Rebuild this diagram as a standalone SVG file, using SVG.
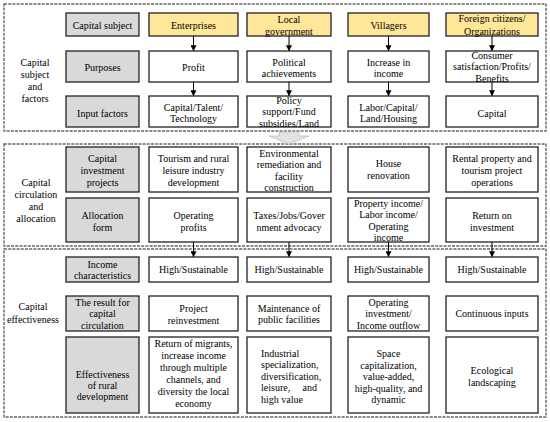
<svg xmlns="http://www.w3.org/2000/svg" width="550" height="422" viewBox="0 0 550 422" font-family="'Liberation Serif','DejaVu Serif','Times New Roman',serif" font-size="10">
<style>
text{font-family:'Liberation Serif','DejaVu Serif','Times New Roman',serif;font-size:10px;fill:#000;text-anchor:middle}
.l{text-anchor:start}
.e{text-anchor:end}
.sec{fill:none;stroke:#666;stroke-width:1.4;stroke-dasharray:3 1.2}
.g{fill:#d9d9d9;stroke:#222;stroke-width:1.3}
.y{fill:#ffe699;stroke:#222;stroke-width:1.3}
.w{fill:#fff;stroke:#222;stroke-width:1.3}
.c line{stroke:#000;stroke-width:1}
</style>
<defs>
<marker id="ah" viewBox="0 0 8 8" refX="7" refY="4" markerWidth="6" markerHeight="6" orient="auto" markerUnits="userSpaceOnUse">
<path d="M0,0 L8,4 L0,8 z" fill="#000"/>
</marker>
</defs>
<rect width="550" height="422" fill="#fff"/>

<!-- sections -->
<g id="sec1"><rect class="sec" x="4" y="4" width="542" height="127"/>
<text x="35" y="65.5">Capital</text><text x="35" y="77.5">subject</text><text x="35" y="89.5">and</text><text x="35" y="101.5">factors</text></g>
<g id="sec2"><rect class="sec" x="4" y="144" width="542" height="102"/>
<text x="36" y="185.5">Capital</text><text x="36" y="197.5">circulation</text><text x="36" y="209.5">and</text><text x="36" y="221.5">allocation</text></g>
<g id="sec3"><rect class="sec" x="4" y="249" width="542" height="168"/>
<text x="33" y="309.5">Capital</text><text x="33" y="322.5">effectiveness</text></g>

<g id="bigarrow"><polygon points="279,132 299,132 299,136 309,136 289,144 269,136 279,136" fill="#e3e3e3" stroke="#bdbdbd" stroke-width="0.8"/></g>

<!-- row 1 -->
<g id="n_capital_subject"><rect class="g" x="66" y="13" width="73" height="23"/><text x="102.5" y="28.5">Capital subject</text></g>
<g id="n_enterprises"><rect class="y" x="149" y="13" width="89" height="23"/><text x="193.5" y="28.5">Enterprises</text></g>
<g id="n_local_gov"><rect class="y" x="247" y="13" width="84" height="23"/><text x="289" y="22.5">Local</text><text x="289" y="34.5">government</text></g>
<g id="n_villagers"><rect class="y" x="348" y="13" width="81" height="23"/><text x="388.5" y="28.5">Villagers</text></g>
<g id="n_foreign"><rect class="y" x="446" y="13" width="92" height="23"/><text x="492" y="22">Foreign citizens/</text><text x="492" y="34.5">Organizations</text></g>

<!-- row 2 -->
<g id="n_purposes"><rect class="g" x="66" y="51" width="73" height="31"/><text x="102.5" y="70.5">Purposes</text></g>
<g id="n_profit"><rect class="w" x="149" y="51" width="89" height="31"/><text x="193.5" y="70.5">Profit</text></g>
<g id="n_political"><rect class="w" x="247" y="51" width="84" height="31"/><text x="289" y="65.5">Political</text><text x="289" y="76.5">achievements</text></g>
<g id="n_increase"><rect class="w" x="348" y="51" width="81" height="31"/><text x="388.5" y="65.5">Increase in</text><text x="388.5" y="76.5">income</text></g>
<g id="n_consumer"><rect class="w" x="446" y="51" width="92" height="31"/><text x="492" y="58.5">Consumer</text><text x="492" y="69.5">satisfaction/Profits/</text><text x="492" y="81.5">Benefits</text></g>

<!-- row 3 -->
<g id="n_input"><rect class="g" x="66" y="96" width="73" height="31"/><text x="102.5" y="116.5">Input factors</text></g>
<g id="n_cap_talent"><rect class="w" x="149" y="96" width="89" height="31"/><text x="193.5" y="110.5">Capital/Talent/</text><text x="193.5" y="121.5">Technology</text></g>
<g id="n_policy"><rect class="w" x="247" y="96" width="84" height="31"/><text x="289" y="103.5">Policy</text><text x="289" y="115">support/Fund</text><text x="289" y="127">subsidies/Land</text></g>
<g id="n_labor"><rect class="w" x="348" y="96" width="81" height="31"/><text x="388.5" y="110.5">Labor/Capital/</text><text x="388.5" y="121.5">Land/Housing</text></g>
<g id="n_capital"><rect class="w" x="446" y="96" width="92" height="31"/><text x="492" y="116.5">Capital</text></g>

<!-- row 4 -->
<g id="n_cap_inv"><rect class="g" x="66" y="147" width="73" height="45"/><text x="102.5" y="161.5">Capital</text><text x="102.5" y="173.5">investment</text><text x="102.5" y="185.5">projects</text></g>
<g id="n_tourism"><rect class="w" x="149" y="147" width="89" height="45"/><text x="193.5" y="161.5">Tourism and rural</text><text x="193.5" y="173.5">leisure industry</text><text x="193.5" y="185.5">development</text></g>
<g id="n_env"><rect class="w" x="247" y="147" width="84" height="45"/><text x="289" y="156.5">Environmental</text><text x="289" y="167.5">remediation and</text><text x="289" y="179.5">facility</text><text x="289" y="190.5">construction</text></g>
<g id="n_house"><rect class="w" x="348" y="147" width="81" height="45"/><text x="388.5" y="166.5">House</text><text x="388.5" y="178.5">renovation</text></g>
<g id="n_rental"><rect class="w" x="446" y="147" width="92" height="45"/><text x="492" y="161.5">Rental property and</text><text x="492" y="173.5">tourism project</text><text x="492" y="185.5">operations</text></g>

<!-- row 5 -->
<g id="n_alloc"><rect class="g" x="66" y="198" width="73" height="44"/><text x="102.5" y="218.5">Allocation</text><text x="102.5" y="230.5">form</text></g>
<g id="n_oper_profits"><rect class="w" x="149" y="198" width="89" height="44"/><text x="193.5" y="218.5">Operating</text><text x="193.5" y="230.5">profits</text></g>
<g id="n_taxes"><rect class="w" x="247" y="198" width="84" height="44"/><text x="289" y="218.5">Taxes/Jobs/Gover</text><text x="289" y="230.5">nment advocacy</text></g>
<g id="n_property"><rect class="w" x="348" y="198" width="81" height="44"/><text x="388.5" y="206.5">Property income/</text><text x="388.5" y="218">Labor income/</text><text x="388.5" y="229.5">Operating</text><text x="388.5" y="241">income</text></g>
<g id="n_return"><rect class="w" x="446" y="198" width="92" height="44"/><text x="492" y="218.5">Return on</text><text x="492" y="230.5">investment</text></g>

<!-- row 6 -->
<g id="n_income_char"><rect class="g" x="66" y="257" width="73" height="25"/><text x="102.5" y="267.5">Income</text><text x="102.5" y="278.5">characteristics</text></g>
<g id="n_hs1"><rect class="w" x="149" y="257" width="89" height="25"/><text x="193.5" y="272.5">High/Sustainable</text></g>
<g id="n_hs2"><rect class="w" x="247" y="257" width="84" height="25"/><text x="289" y="272.5">High/Sustainable</text></g>
<g id="n_hs3"><rect class="w" x="348" y="257" width="81" height="25"/><text x="388.5" y="272.5">High/Sustainable</text></g>
<g id="n_hs4"><rect class="w" x="446" y="257" width="92" height="25"/><text x="492" y="272.5">High/Sustainable</text></g>

<!-- row 7 -->
<g id="n_result"><rect class="g" x="66" y="296" width="73" height="35"/><text x="102.5" y="305.5">The result for</text><text x="102.5" y="316.5">capital</text><text x="102.5" y="328.5">circulation</text></g>
<g id="n_reinvest"><rect class="w" x="149" y="296" width="89" height="35"/><text x="193.5" y="311.5">Project</text><text x="193.5" y="323.5">reinvestment</text></g>
<g id="n_maint"><rect class="w" x="247" y="296" width="84" height="35"/><text x="289" y="311.5">Maintenance of</text><text x="289" y="322.5">public facilities</text></g>
<g id="n_oper_inv"><rect class="w" x="348" y="296" width="81" height="35"/><text x="388.5" y="305.5">Operating</text><text x="388.5" y="316.5">investment/</text><text x="388.5" y="328.5">Income outflow</text></g>
<g id="n_continuous"><rect class="w" x="446" y="296" width="92" height="35"/><text x="492" y="316.5">Continuous inputs</text></g>

<!-- row 8 -->
<g id="n_effect"><rect class="g" x="66" y="337" width="73" height="76"/><text x="102.5" y="377.5">Effectiveness</text><text x="102.5" y="388.5">of rural</text><text x="102.5" y="399.5">development</text></g>
<g id="n_migrants"><rect class="w" x="149" y="337" width="89" height="76"/><text x="193.5" y="346.5">Return of migrants,</text><text x="193.5" y="358.5">increase income</text><text x="193.5" y="370.5">through multiple</text><text x="193.5" y="382.5">channels, and</text><text x="193.5" y="394.5">diversity the local</text><text x="193.5" y="406.5">economy</text></g>
<g id="n_industrial"><rect class="w" x="247" y="337" width="84" height="76"/><text class="l" x="261" y="356.5">Industrial</text><text class="l" x="261" y="368">specialization,</text><text class="l" x="261" y="379.5">diversification,</text><text class="l" x="261" y="391">leisure,</text><text class="e" x="317" y="391">and</text><text class="l" x="261" y="402.5">high value</text></g>
<g id="n_space"><rect class="w" x="348" y="337" width="81" height="76"/><text x="388.5" y="356.5">Space</text><text x="388.5" y="368.5">capitalization,</text><text x="388.5" y="380">value-added,</text><text x="388.5" y="391.5">high-quality, and</text><text x="388.5" y="403">dynamic</text></g>
<g id="n_eco"><rect class="w" x="446" y="337" width="92" height="76"/><text x="492" y="373.5">Ecological</text><text x="492" y="385.5">landscaping</text></g>

<!-- connectors -->
<g id="connectors" class="c">
<line x1="193.5" y1="36" x2="193.5" y2="50.5" marker-end="url(#ah)"/>
<line x1="289" y1="36" x2="289" y2="50.5" marker-end="url(#ah)"/>
<line x1="388.5" y1="36" x2="388.5" y2="50.5" marker-end="url(#ah)"/>
<line x1="492" y1="36" x2="492" y2="50.5" marker-end="url(#ah)"/>
<line x1="193.5" y1="82" x2="193.5" y2="95.5" marker-end="url(#ah)"/>
<line x1="289" y1="82" x2="289" y2="95.5" marker-end="url(#ah)"/>
<line x1="388.5" y1="82" x2="388.5" y2="95.5" marker-end="url(#ah)"/>
<line x1="492" y1="82" x2="492" y2="95.5" marker-end="url(#ah)"/>
<line x1="193.5" y1="242" x2="193.5" y2="256.5" marker-end="url(#ah)"/>
<line x1="289" y1="242" x2="289" y2="256.5" marker-end="url(#ah)"/>
<line x1="388.5" y1="242" x2="388.5" y2="256.5" marker-end="url(#ah)"/>
<line x1="492" y1="242" x2="492" y2="256.5" marker-end="url(#ah)"/>
</g>
</svg>
